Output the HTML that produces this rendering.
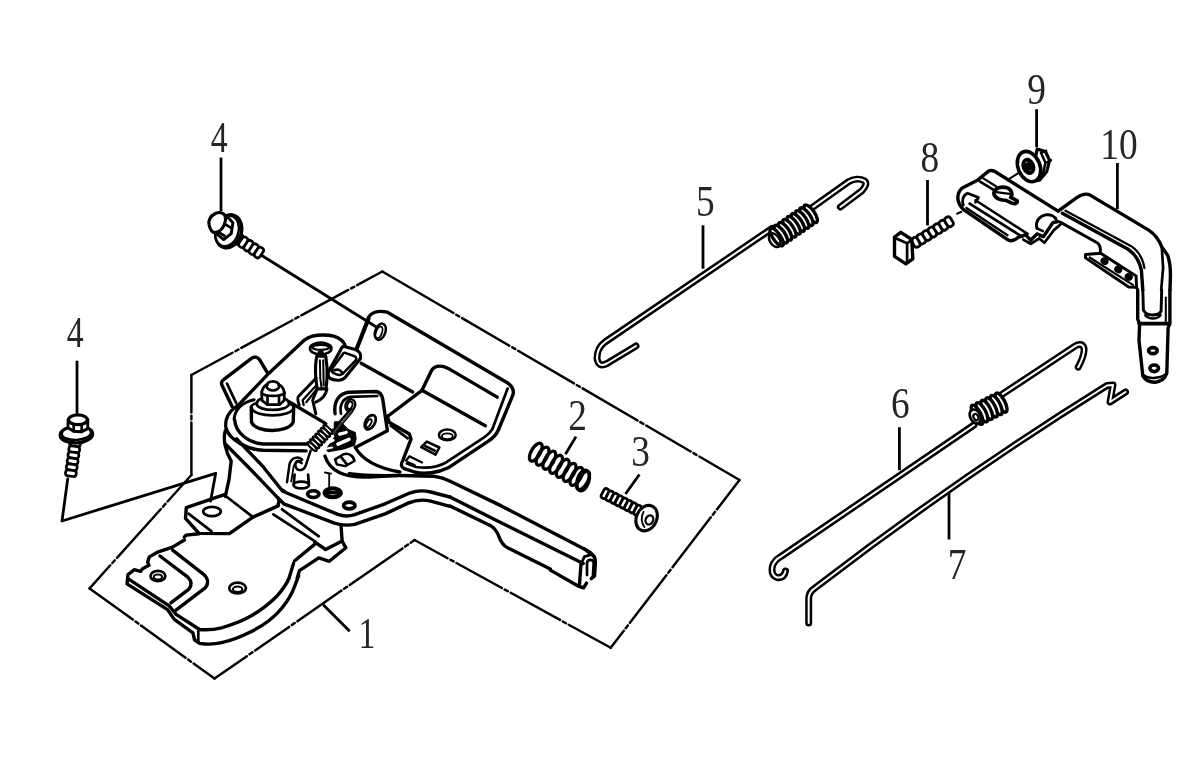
<!DOCTYPE html>
<html lang="en"><head><meta charset="utf-8"><title>Parts diagram</title>
<style>
html,body{margin:0;padding:0;background:#fff;}
body{width:1188px;height:764px;overflow:hidden;}
svg{display:block;filter:blur(0.6px);}
.lb{font-family:"Liberation Serif","DejaVu Serif",serif;font-size:44.5px;fill:#262626;text-anchor:middle;}
</style></head><body>
<svg role="img" aria-label="Exploded parts diagram" width="1188" height="764" viewBox="0 0 1188 764">
<rect width="1188" height="764" fill="#fff"/>
<text class="lb" x="219.1" y="151.7" transform="translate(219.1 0) scale(0.76 1) translate(-219.1 0)">4</text>
<text class="lb" x="75.2" y="346.8" transform="translate(75.2 0) scale(0.76 1) translate(-75.2 0)">4</text>
<text class="lb" x="577.5" y="429.9" transform="translate(577.5 0) scale(0.84 1) translate(-577.5 0)">2</text>
<text class="lb" x="640.5" y="466.1" transform="translate(640.5 0) scale(0.84 1) translate(-640.5 0)">3</text>
<text class="lb" x="366.9" y="648.4" transform="translate(366.9 0) scale(0.76 1) translate(-366.9 0)">1</text>
<text class="lb" x="705.3" y="215.9" transform="translate(705.3 0) scale(0.84 1) translate(-705.3 0)">5</text>
<text class="lb" x="929.9" y="171.8" transform="translate(929.9 0) scale(0.84 1) translate(-929.9 0)">8</text>
<text class="lb" x="1036.6" y="104.1" transform="translate(1036.6 0) scale(0.84 1) translate(-1036.6 0)">9</text>
<text class="lb" x="1118.9" y="158.9" transform="translate(1118.9 0) scale(0.84 1) translate(-1118.9 0)">10</text>
<text class="lb" x="900.4" y="418.3" transform="translate(900.4 0) scale(0.84 1) translate(-900.4 0)">6</text>
<text class="lb" x="957.2" y="578.6" transform="translate(957.2 0) scale(0.84 1) translate(-957.2 0)">7</text>
<line x1="221" y1="157.6" x2="221" y2="211" stroke="#000" stroke-width="2.8" />
<line x1="77" y1="360.7" x2="77" y2="413.7" stroke="#000" stroke-width="2.8" />
<line x1="576" y1="436.6" x2="565.4" y2="454.3" stroke="#000" stroke-width="2.8" />
<line x1="639.4" y1="474.5" x2="625.5" y2="494" stroke="#000" stroke-width="2.8" />
<line x1="323.2" y1="604.8" x2="349.7" y2="631.3" stroke="#000" stroke-width="2.8" />
<line x1="703" y1="225.3" x2="703" y2="268.7" stroke="#000" stroke-width="2.8" />
<line x1="927.5" y1="180" x2="927.5" y2="225.4" stroke="#000" stroke-width="2.8" />
<line x1="1036.6" y1="109.2" x2="1036.6" y2="147" stroke="#000" stroke-width="2.8" />
<line x1="1117.4" y1="163" x2="1117.4" y2="209" stroke="#000" stroke-width="2.8" />
<line x1="899.4" y1="427.2" x2="899.4" y2="470.2" stroke="#000" stroke-width="2.8" />
<line x1="949" y1="492.8" x2="949" y2="539.5" stroke="#000" stroke-width="2.8" />
<line x1="261" y1="255" x2="378" y2="328" stroke="#000" stroke-width="2.8" />
<path d="M67.7 479 L62 521 L215.7 473.3 L210.6 501" fill="none" stroke="#000" stroke-width="2.8" stroke-linejoin="round" stroke-linecap="round" />
<path d="M191.4 475.0 L191.4 422.5 M191.4 419.3 L191.4 415.7 M191.4 412.5 L191.4 375.0" fill="none" stroke="#000" stroke-width="2.43" stroke-linejoin="round" stroke-linecap="round" stroke-linecap="butt"/>
<path d="M191.4 375.0 L232.5 352.7 M235.4 351.2 L238.5 349.5 M241.3 347.9 L292.5 320.2 M295.3 318.6 L298.5 316.9 M301.3 315.4 L348.3 289.9 M351.2 288.4 L354.3 286.7 M357.1 285.1 L382.3 271.5" fill="none" stroke="#000" stroke-width="2.43" stroke-linejoin="round" stroke-linecap="round" stroke-linecap="butt"/>
<path d="M382.3 271.5 L453.5 313.0 M456.2 314.7 L459.3 316.5 M462.1 318.1 L509.4 345.7 M512.2 347.3 L515.3 349.1 M518.1 350.8 L574.0 383.4 M576.7 385.0 L579.8 386.8 M582.6 388.4 L637.6 420.5 M640.3 422.1 L643.4 423.9 M646.2 425.5 L690.7 451.5 M693.4 453.1 L696.5 454.9 M699.3 456.5 L739.5 480.0" fill="none" stroke="#000" stroke-width="2.43" stroke-linejoin="round" stroke-linecap="round" stroke-linecap="butt"/>
<path d="M739.5 480.0 L716.9 509.4 M715.0 511.9 L712.8 514.8 M710.8 517.3 L672.5 567.3 M670.5 569.9 L668.3 572.7 M666.4 575.3 L629.9 622.8 M627.9 625.4 L625.7 628.2 M623.8 630.7 L610.7 647.8" fill="none" stroke="#000" stroke-width="2.43" stroke-linejoin="round" stroke-linecap="round" stroke-linecap="butt"/>
<path d="M610.7 647.8 L568.7 624.7 M565.9 623.2 L562.8 621.5 M560.0 619.9 L510.7 592.8 M507.9 591.3 L504.7 589.6 M501.9 588.0 L456.4 563.0 M453.6 561.4 L450.4 559.7 M447.6 558.2 L414.6 540.0" fill="none" stroke="#000" stroke-width="2.43" stroke-linejoin="round" stroke-linecap="round" stroke-linecap="butt"/>
<path d="M414.6 540.0 L410.7 542.7 M408.1 544.5 L405.1 546.6 M402.5 548.4 L349.7 585.0 M347.1 586.8 L344.1 588.8 M341.5 590.6 L297.4 621.2 M294.7 623.0 L291.8 625.1 M289.1 626.9 L255.1 650.5 M252.5 652.3 L249.5 654.3 M246.9 656.2 L214.5 678.6" fill="none" stroke="#000" stroke-width="2.43" stroke-linejoin="round" stroke-linecap="round" stroke-linecap="butt"/>
<path d="M214.5 678.6 L193.6 663.5 M191.0 661.7 L188.1 659.5 M185.5 657.7 L141.0 625.5 M138.4 623.6 L135.4 621.5 M132.8 619.6 L89.6 588.4" fill="none" stroke="#000" stroke-width="2.43" stroke-linejoin="round" stroke-linecap="round" stroke-linecap="butt"/>
<path d="M89.6 588.4 L110.3 565.3 M112.4 563.0 L114.8 560.3 M117.0 557.9 L160.9 509.0 M163.1 506.6 L165.5 503.9 M167.6 501.5 L191.4 475.0" fill="none" stroke="#000" stroke-width="2.43" stroke-linejoin="round" stroke-linecap="round" stroke-linecap="butt"/>
<path d="M785.5 571 Q784 578.5 777 577.5 Q770.5 575 772.5 566 Q774.5 560 781 556.5 L974 425" fill="none" stroke="#000" stroke-width="7.0" stroke-linejoin="round" stroke-linecap="round"/>
<path d="M785.5 571 Q784 578.5 777 577.5 Q770.5 575 772.5 566 Q774.5 560 781 556.5 L974 425" fill="none" stroke="#fff" stroke-width="2.0" stroke-linejoin="round" stroke-linecap="round"/>
<path d="M808.7 623 L808.7 598 Q809 592 815 588 Q956 479.5 1107 385.5 L1113 385 L1110 402 L1125.5 392" fill="none" stroke="#000" stroke-width="7.0" stroke-linejoin="round" stroke-linecap="round"/>
<path d="M808.7 623 L808.7 598 Q809 592 815 588 Q956 479.5 1107 385.5 L1113 385 L1110 402 L1125.5 392" fill="none" stroke="#fff" stroke-width="2.0" stroke-linejoin="round" stroke-linecap="round"/>
<path d="M 356.2 349.0 L 368.0 318.6 C 370.5 312.7 377.3 309.8 387.4 312.2 L 507.3 382.7 C 513.2 387.0 514.4 391.2 512.7 395.4 L 498.8 429.0" fill="none" stroke="#000" stroke-width="3.39" stroke-linejoin="round" stroke-linecap="round" />
<path d="M 507.6 388.6 L 492.4 429.0" fill="none" stroke="#000" stroke-width="2.71" stroke-linejoin="round" stroke-linecap="round" />
<path d="M 361.2 363.3 L 412.7 392.0" fill="none" stroke="#000" stroke-width="3.39" stroke-linejoin="round" stroke-linecap="round" />
<path d="M 387.4 416.5 L 422.0 390.3 L 431.3 370.9 C 434.7 365.0 441.4 365.0 448.2 368.4 L 497.2 397.1" fill="none" stroke="#000" stroke-width="3.39" stroke-linejoin="round" stroke-linecap="round" />
<path d="M 422.0 390.3 L 485.3 425.8" fill="none" stroke="#000" stroke-width="3.39" stroke-linejoin="round" stroke-linecap="round" />
<ellipse cx="380.3" cy="331.7" rx="5.1" ry="8.4" transform="rotate(20 380.3 331.7)" fill="none" stroke="#000" stroke-width="2.49"/>
<ellipse cx="379.0" cy="332.4" rx="3.0" ry="6.1" transform="rotate(20 379.0 332.4)" fill="none" stroke="#000" stroke-width="1.81"/>
<path d="M 498.8 429.0 C 496.3 434.9 492.9 438.3 488.7 440.8 L 448.2 467.8 C 438.1 472.9 424.6 474.6 414.4 472.0 L 404.3 468.6 C 400.9 467.0 400.6 464.4 402.6 461.0 L 411.0 439.1 L 409.4 434.0 L 389.1 422.2 L 387.4 416.3" fill="none" stroke="#000" stroke-width="3.39" stroke-linejoin="round" stroke-linecap="round" />
<path d="M 492.4 429.0 C 490.4 432.3 487.9 434.9 484.5 437.1 L 446.5 462.2 C 438.1 467.0 426.2 468.6 416.1 467.0 L 406.8 463.6" fill="none" stroke="#000" stroke-width="2.71" stroke-linejoin="round" stroke-linecap="round" />
<path d="M 390.8 425.6 L 407.7 438.3" fill="none" stroke="#000" stroke-width="2.71" stroke-linejoin="round" stroke-linecap="round" />
<ellipse cx="447.3" cy="434.9" rx="8.4" ry="5.4" transform="rotate(0 447.3 434.9)" fill="none" stroke="#000" stroke-width="2.49"/>
<ellipse cx="447.3" cy="436.2" rx="5.4" ry="2.9" transform="rotate(0 447.3 436.2)" fill="none" stroke="#000" stroke-width="1.81"/>
<path d="M 421.2 447.2 L 426.8 441.6 L 439.4 447.5 L 435.5 454.6 Z" fill="none" stroke="#000" stroke-width="2.49" stroke-linejoin="round" stroke-linecap="round" />
<path d="M 425.4 446.2 L 434.7 450.6" fill="none" stroke="#000" stroke-width="2.71" stroke-linejoin="round" stroke-linecap="round" />
<path d="M 406.0 460.7 L 409.4 456.3 L 422.0 462.4" fill="none" stroke="#000" stroke-width="2.26" stroke-linejoin="round" stroke-linecap="round" />
<path d="M 408.0 462.4 L 414.4 465.3" fill="none" stroke="#000" stroke-width="2.71" stroke-linejoin="round" stroke-linecap="round" />
<path d="M 235.5 408.1 L 269.2 372.9 L 304.7 339.8 C 313.1 333.4 333.4 333.4 341.0 339.8 C 343.9 342.2 345.2 344.7 345.5 347.8" fill="none" stroke="#000" stroke-width="3.39" stroke-linejoin="round" stroke-linecap="round" />
<path d="M 232.1 406.4 L 222.0 385.3 C 220.9 382.7 221.6 381.0 223.6 379.7 L 251.5 358.3 C 254.4 356.4 257.7 357.1 259.4 359.4 L 267.5 372.9" fill="none" stroke="#000" stroke-width="3.39" stroke-linejoin="round" stroke-linecap="round" />
<path d="M 236.3 403.3 L 227.0 383.6" fill="none" stroke="#000" stroke-width="2.71" stroke-linejoin="round" stroke-linecap="round" />
<path d="M 357.0 349.0 L 368.8 318.9" fill="none" stroke="#000" stroke-width="3.39" stroke-linejoin="round" stroke-linecap="round" />
<ellipse cx="272.9" cy="385.9" rx="6.4" ry="4.6" transform="rotate(0 272.9 385.9)" fill="none" stroke="#000" stroke-width="2.71"/>
<path d="M 261.8 391.8 C 262.5 386.8 266.7 384.2 267.5 385.1" fill="none" stroke="#000" stroke-width="2.71" stroke-linejoin="round" stroke-linecap="round" />
<path d="M 284.1 391.8 C 283.6 386.8 279.4 384.2 278.5 385.1" fill="none" stroke="#000" stroke-width="2.71" stroke-linejoin="round" stroke-linecap="round" />
<path d="M 261.6 392.2 L 262.1 400.6 L 267.5 404.7 L 279.4 404.7 L 284.1 400.6 L 284.4 392.2" fill="none" stroke="#000" stroke-width="2.71" stroke-linejoin="round" stroke-linecap="round" />
<path d="M 267.5 396.9 L 267.5 404.7 M 279.0 396.9 L 279.0 404.7" fill="none" stroke="#000" stroke-width="2.71" stroke-linejoin="round" stroke-linecap="round" />
<path d="M 261.8 393.2 C 265.0 396.9 281.0 396.9 284.3 393.2" fill="none" stroke="#000" stroke-width="2.71" stroke-linejoin="round" stroke-linecap="round" />
<path d="M 256.6 403.6 C 257.4 412.1 287.8 412.1 289.2 403.6" fill="none" stroke="#000" stroke-width="2.71" stroke-linejoin="round" stroke-linecap="round" />
<path d="M 256.6 403.6 C 257.4 400.3 259.9 398.9 261.8 398.6 M 289.2 403.6 C 288.1 400.3 286.1 398.9 284.4 398.6" fill="none" stroke="#000" stroke-width="2.71" stroke-linejoin="round" stroke-linecap="round" />
<path d="M 251.5 407.9 C 254.0 418.0 291.2 418.0 293.7 407.9" fill="none" stroke="#000" stroke-width="2.71" stroke-linejoin="round" stroke-linecap="round" />
<path d="M 251.2 407.0 L 251.5 422.2 C 255.7 433.2 288.6 433.2 293.2 422.2 L 293.7 407.0" fill="none" stroke="#000" stroke-width="3.39" stroke-linejoin="round" stroke-linecap="round" />
<path d="M 251.2 407.0 C 251.5 405.3 254.0 403.6 256.7 403.3 M 293.7 407.0 C 293.2 405.3 291.2 404.0 289.2 403.6" fill="none" stroke="#000" stroke-width="2.71" stroke-linejoin="round" stroke-linecap="round" />
<path d="M 235.5 407.0 C 228.7 412.1 225.3 418.8 225.7 425.6" fill="none" stroke="#000" stroke-width="3.39" stroke-linejoin="round" stroke-linecap="round" />
<path d="M 289.5 402.0 L 325.8 423.6" fill="none" stroke="#000" stroke-width="3.39" stroke-linejoin="round" stroke-linecap="round" />
<path d="M 225.3 430.7 C 222.8 439.1 225.3 450.9 231.2 461.0 L 229.0 479.6 L 225.3 496.5" fill="none" stroke="#000" stroke-width="3.39" stroke-linejoin="round" stroke-linecap="round" />
<path d="M 333.4 429.0 L 351.1 408.7" fill="none" stroke="#000" stroke-width="2.49" stroke-linejoin="round" stroke-linecap="round" />
<path d="M 336.8 430.7 L 352.8 411.2" fill="none" stroke="#000" stroke-width="1.58" stroke-linejoin="round" stroke-linecap="round" />
<ellipse cx="350.3" cy="405.3" rx="4.7" ry="6.1" transform="rotate(20 350.3 405.3)" fill="none" stroke="#000" stroke-width="2.49"/>
<ellipse cx="349.9" cy="405.3" rx="2.4" ry="3.7" transform="rotate(20 349.9 405.3)" fill="none" stroke="#000" stroke-width="1.81"/>
<path d="M 310.6 450.9 L 305.5 466.1 C 303.0 472.0 295.4 471.2 295.4 464.4 C 295.4 460.7 300.0 459.4 301.6 463.1" fill="none" stroke="#000" stroke-width="2.49" stroke-linejoin="round" stroke-linecap="round" />
<path d="M 287.0 482.2 L 289.5 464.4 C 291.2 457.3 298.8 455.6 302.2 459.7" fill="none" stroke="#000" stroke-width="2.49" stroke-linejoin="round" stroke-linecap="round" />
<path d="M 291.2 481.3 L 293.7 466.1 C 294.6 462.7 297.9 461.0 300.5 462.7" fill="none" stroke="#000" stroke-width="1.81" stroke-linejoin="round" stroke-linecap="round" />
<ellipse cx="301.3" cy="485.0" rx="7.8" ry="3.4" transform="rotate(0 301.3 485.0)" fill="none" stroke="#000" stroke-width="2.71"/>
<path d="M 293.7 483.8 L 294.6 474.6 M 308.9 483.8 L 308.1 474.6" fill="none" stroke="#000" stroke-width="2.71" stroke-linejoin="round" stroke-linecap="round" />
<path d="M 329.2 473.7 L 329.2 489.8 M 324.9 472.5 L 330.9 473.7" fill="none" stroke="#000" stroke-width="1.81" stroke-linejoin="round" stroke-linecap="round" />
<path d="M 335.1 413.8 C 333.4 402.0 338.5 393.5 348.6 392.2 L 376.4 391.5 C 379.8 392.2 382.0 395.2 382.7 398.9 L 387.4 430.7 L 355.3 447.5" fill="none" stroke="#000" stroke-width="3.39" stroke-linejoin="round" stroke-linecap="round" />
<path d="M 341.0 413.8 C 339.3 405.3 342.7 398.2 350.3 396.9 L 377.3 396.0" fill="none" stroke="#000" stroke-width="2.71" stroke-linejoin="round" stroke-linecap="round" />
<ellipse cx="370.2" cy="422.2" rx="4.7" ry="7.8" transform="rotate(30 370.2 422.2)" fill="none" stroke="#000" stroke-width="2.71"/>
<ellipse cx="368.8" cy="423.2" rx="2.0" ry="4.4" transform="rotate(30 368.8 423.2)" fill="none" stroke="#000" stroke-width="1.81"/>
<path d="M 355.3 447.5 C 362.1 459.4 375.6 467.8 399.9 472.0" fill="none" stroke="#000" stroke-width="3.39" stroke-linejoin="round" stroke-linecap="round" />
<path d="M 324.9 456.0 C 330.0 471.2 343.5 477.9 368.8 477.1 L 399.9 475.4" fill="none" stroke="#000" stroke-width="3.39" stroke-linejoin="round" stroke-linecap="round" />
<path d="M 335.1 459.4 L 343.5 454.3 C 348.6 452.6 353.7 456.0 354.5 461.0 L 345.2 466.1 L 336.8 464.4 Z" fill="none" stroke="#000" stroke-width="2.49" stroke-linejoin="round" stroke-linecap="round" />
<path d="M 341.0 456.8 L 346.9 464.4" fill="none" stroke="#000" stroke-width="2.71" stroke-linejoin="round" stroke-linecap="round" />
<path d="M 224.3 494.6 L 186.3 507.6 L 185.5 518.3 L 199.0 533.4 L 229.4 533.6 L 253.0 517.1 L 278.0 505.9" fill="none" stroke="#000" stroke-width="3.39" stroke-linejoin="round" stroke-linecap="round" />
<path d="M 226.0 496.3 L 253.0 517.1" fill="none" stroke="#000" stroke-width="2.71" stroke-linejoin="round" stroke-linecap="round" />
<path d="M 188.5 513.7 L 211.6 531.3" fill="none" stroke="#000" stroke-width="2.71" stroke-linejoin="round" stroke-linecap="round" />
<ellipse cx="212.0" cy="511.5" rx="8.8" ry="4.6" transform="rotate(0 212.0 511.5)" fill="none" stroke="#000" stroke-width="2.71"/>
<path d="M 199.0 533.8 L 186.3 535.1 L 184.3 537.0" fill="none" stroke="#000" stroke-width="3.39" stroke-linejoin="round" stroke-linecap="round" />
<path d="M 279.2 499.2 L 278.0 505.9" fill="none" stroke="#000" stroke-width="3.39" stroke-linejoin="round" stroke-linecap="round" />
<path d="M 273.3 514.4 L 315.1 541.4" fill="none" stroke="#000" stroke-width="2.71" stroke-linejoin="round" stroke-linecap="round" />
<path d="M 282.0 509.3 L 318.8 536.3" fill="none" stroke="#000" stroke-width="2.71" stroke-linejoin="round" stroke-linecap="round" />
<path d="M 314.6 541.9 L 325.6 549.5 L 342.1 541.0 L 341.1 526.7" fill="none" stroke="#000" stroke-width="3.39" stroke-linejoin="round" stroke-linecap="round" />
<path d="M 342.1 541.0 L 345.9 547.8 L 329.3 561.3 L 318.8 557.9 L 299.4 570.6 L 297.2 578.2" fill="none" stroke="#000" stroke-width="3.39" stroke-linejoin="round" stroke-linecap="round" />
<path d="M 314.6 544.4 L 294.4 561.0" fill="none" stroke="#000" stroke-width="3.39" stroke-linejoin="round" stroke-linecap="round" />
<path d="M 225.3 444.0 L 248.0 466.7 L 278.3 498.3" fill="none" stroke="#000" stroke-width="3.39" stroke-linejoin="round" stroke-linecap="round" />
<path d="M 236.6 438.9 L 263.1 466.7 L 282.7 491.3" fill="none" stroke="#000" stroke-width="3.39" stroke-linejoin="round" stroke-linecap="round" />
<path d="M 225.9 427.6 C 229.0 440.2 248.0 449.7 263.1 450.3 L 306.1 450.9" fill="none" stroke="#000" stroke-width="3.39" stroke-linejoin="round" stroke-linecap="round" />
<path d="M 234.7 420.0 C 235.4 433.9 250.5 443.4 263.1 444.0 L 306.7 444.0" fill="none" stroke="#000" stroke-width="3.39" stroke-linejoin="round" stroke-linecap="round" />
<path d="M 184.4 540.0 L 172.6 547.1 L 158.3 551.8 L 149.3 556.9 L 147.6 562.0 L 149.0 565.3 L 142.5 568.7 L 140.5 571.4 L 134.1 569.7 L 128.0 574.6 L 127.0 583.9 L 167.5 609.6 L 174.3 619.4 L 192.9 632.9 L 194.6 640.0 L 199.6 643.3 C 208.1 644.7 214.8 644.3 221.6 642.7 C 235.1 639.6 245.2 634.6 252.0 631.2 C 265.5 624.4 275.6 616.0 282.4 607.5 C 289.1 599.1 292.5 592.3 294.2 587.3 L 298.6 575.8" fill="none" stroke="#000" stroke-width="3.39" stroke-linejoin="round" stroke-linecap="round" />
<path d="M 128.7 579.2 L 169.2 605.9 L 176.0 614.3 L 199.6 629.5 C 208.1 630.3 214.8 629.5 221.6 627.8 C 233.4 624.4 241.8 621.0 248.6 617.3 C 260.4 610.9 270.5 602.5 277.3 595.7 C 284.0 588.1 287.4 582.2 289.1 578.0 L 293.5 563.6" fill="none" stroke="#000" stroke-width="3.39" stroke-linejoin="round" stroke-linecap="round" />
<path d="M 198.3 631.2 L 198.3 641.6" fill="none" stroke="#000" stroke-width="2.71" stroke-linejoin="round" stroke-linecap="round" />
<path d="M 172.6 550.1 L 203.0 573.8 C 208.1 578.0 208.9 583.1 205.5 587.6 L 176.0 610.1" fill="none" stroke="#000" stroke-width="3.39" stroke-linejoin="round" stroke-linecap="round" />
<path d="M 159.9 556.0 L 187.8 577.1 C 192.0 581.4 192.0 585.6 188.6 589.3 L 170.9 602.8" fill="none" stroke="#000" stroke-width="3.39" stroke-linejoin="round" stroke-linecap="round" />
<ellipse cx="157.9" cy="576.0" rx="7.4" ry="5.2" transform="rotate(0 157.9 576.0)" fill="none" stroke="#000" stroke-width="2.71"/>
<ellipse cx="157.9" cy="577.1" rx="4.1" ry="2.5" transform="rotate(0 157.9 577.1)" fill="none" stroke="#000" stroke-width="2.03"/>
<ellipse cx="237.6" cy="588.1" rx="8.4" ry="5.4" transform="rotate(0 237.6 588.1)" fill="none" stroke="#000" stroke-width="2.71"/>
<ellipse cx="237.6" cy="589.3" rx="4.7" ry="2.7" transform="rotate(0 237.6 589.3)" fill="none" stroke="#000" stroke-width="2.03"/>
<path d="M 277.9 497.9 L 283.8 503.8 L 334.4 523.2 C 341.2 525.4 347.9 525.7 354.7 524.4 L 385.1 513.9 L 408.7 502.9 C 415.5 500.1 423.9 499.5 430.7 501.2 L 449.9 506.3" fill="none" stroke="#000" stroke-width="3.39" stroke-linejoin="round" stroke-linecap="round" />
<path d="M 282.9 490.3 L 286.3 492.8 L 337.8 514.4 C 342.9 516.3 349.6 516.3 354.7 514.7 L 385.1 503.8 L 410.4 492.8 C 417.2 490.3 423.9 490.3 430.7 492.0 L 449.9 497.0" fill="none" stroke="#000" stroke-width="3.39" stroke-linejoin="round" stroke-linecap="round" />
<ellipse cx="313.3" cy="494.1" rx="5.7" ry="3.4" transform="rotate(0 313.3 494.1)" fill="none" stroke="#000" stroke-width="3.62"/>
<ellipse cx="332.7" cy="492.8" rx="8.1" ry="4.4" transform="rotate(0 332.7 492.8)" fill="none" stroke="#000" stroke-width="4.07"/>
<path d="M 325.1 492.8 L 340.3 492.8" fill="none" stroke="#000" stroke-width="3.39" stroke-linejoin="round" stroke-linecap="round" />
<ellipse cx="349.3" cy="505.5" rx="5.7" ry="3.4" transform="rotate(0 349.3 505.5)" fill="none" stroke="#000" stroke-width="3.62"/>
<path d="M 349.3 473.8 C 366.2 476.3 383.1 475.8 400.0 475.5 L 433.8 476.3 C 440.5 477.1 445.6 478.8 450.7 481.4 L 501.3 505.9 L 585.7 549.8 L 594.2 556.5" fill="none" stroke="#000" stroke-width="3.39" stroke-linejoin="round" stroke-linecap="round" />
<path d="M 450.0 497.1 L 494.6 519.4 L 583.2 563.6" fill="none" stroke="#000" stroke-width="3.39" stroke-linejoin="round" stroke-linecap="round" />
<path d="M 450.0 505.9 L 491.2 526.1 C 495.4 528.6 497.1 532.0 498.8 536.2 C 500.5 541.3 503.0 545.5 508.1 548.1 L 518.2 553.1 L 550.3 569.0" fill="none" stroke="#000" stroke-width="3.39" stroke-linejoin="round" stroke-linecap="round" />
<path d="M 584.4 549.0 C 591.2 552.3 595.4 555.7 595.4 561.6 L 594.6 576.0 L 591.2 578.7" fill="none" stroke="#000" stroke-width="3.39" stroke-linejoin="round" stroke-linecap="round" />
<path d="M 550.3 570.1 L 577.7 585.8 L 583.6 587.8 L 586.5 583.1" fill="none" stroke="#000" stroke-width="3.39" stroke-linejoin="round" stroke-linecap="round" />
<path d="M 581.0 564.2 L 584.4 556.6 L 592.0 554.4" fill="none" stroke="#000" stroke-width="2.71" stroke-linejoin="round" stroke-linecap="round" />
<path d="M 581.0 564.2 L 579.4 585.3" fill="none" stroke="#000" stroke-width="3.39" stroke-linejoin="round" stroke-linecap="round" />
<path d="M 587.0 575.1 L 587.0 562.8 C 587.8 559.1 592.9 558.8 593.7 562.8 L 592.9 576.3" fill="none" stroke="#000" stroke-width="2.71" stroke-linejoin="round" stroke-linecap="round" />
<path d="M 240.9 234.0 L 241.4 234.3 Q 243.7 235.9 242.2 238.2 L 239.2 242.8 Q 237.6 245.1 235.3 243.6 L 234.7 243.2 Q 232.4 241.7 233.9 239.3 L 237.0 234.7 Q 238.5 232.4 240.9 234.0 Z" fill="#fff" stroke="#000" stroke-width="2.71" stroke-linejoin="round" stroke-linecap="round" />
<path d="M 246.1 237.4 L 246.6 237.8 Q 249.0 239.3 247.4 241.6 L 244.4 246.2 Q 242.8 248.6 240.5 247.0 L 240.0 246.7 Q 237.6 245.1 239.2 242.8 L 242.2 238.2 Q 243.7 235.9 246.1 237.4 Z" fill="#fff" stroke="#000" stroke-width="2.71" stroke-linejoin="round" stroke-linecap="round" />
<path d="M 251.3 240.9 L 251.8 241.2 Q 254.2 242.8 252.6 245.1 L 249.6 249.7 Q 248.0 252.0 245.7 250.5 L 245.2 250.1 Q 242.8 248.6 244.4 246.2 L 247.4 241.6 Q 249.0 239.3 251.3 240.9 Z" fill="#fff" stroke="#000" stroke-width="2.71" stroke-linejoin="round" stroke-linecap="round" />
<path d="M 256.5 244.3 L 257.0 244.7 Q 259.4 246.2 257.8 248.6 L 254.8 253.1 Q 253.3 255.5 250.9 253.9 L 250.4 253.6 Q 248.0 252.0 249.6 249.7 L 252.6 245.1 Q 254.2 242.8 256.5 244.3 Z" fill="#fff" stroke="#000" stroke-width="2.71" stroke-linejoin="round" stroke-linecap="round" />
<path d="M 261.7 247.8 L 262.3 248.1 Q 264.6 249.7 263.1 252.0 L 260.0 256.6 Q 258.5 258.9 256.1 257.4 L 255.6 257.0 Q 253.3 255.5 254.8 253.1 L 257.8 248.6 Q 259.4 246.2 261.7 247.8 Z" fill="#fff" stroke="#000" stroke-width="2.71" stroke-linejoin="round" stroke-linecap="round" />
<ellipse cx="228.7" cy="231.3" rx="12.6" ry="16.8" transform="rotate(18 228.7 231.3)" fill="#fff" stroke="#000" stroke-width="3.39"/>
<ellipse cx="227.0" cy="231.0" rx="11.4" ry="15.6" transform="rotate(18 227.0 231.0)" fill="#fff" stroke="#000" stroke-width="2.49"/>
<path d="M 215.3 213.5 L 226.2 215.6 L 232.9 222.7 L 231.2 233.7 L 223.7 239.6 L 215.3 232.8 Z" fill="#fff" stroke="#000" stroke-width="2.94" stroke-linejoin="round" stroke-linecap="round" />
<path d="M 224.5 224.0 L 231.7 228.2 M 217.8 232.0 L 224.5 235.8" fill="none" stroke="#000" stroke-width="2.71" stroke-linejoin="round" stroke-linecap="round" />
<path d="M 209.2 225.3 C 207.8 221.0 210.2 216.0 215.3 213.5 C 219.5 211.8 223.7 212.6 225.2 216.0 C 225.8 218.5 225.4 221.9 224.5 224.0 C 223.2 228.2 219.5 232.0 215.3 232.6 C 212.1 232.7 210.2 229.5 209.2 225.3 Z" fill="#fff" stroke="#000" stroke-width="3.16" stroke-linejoin="round" stroke-linecap="round" />
<path d="M 80.5 443.8 L 80.4 444.4 Q 80.0 447.1 77.3 446.7 L 72.0 446.0 Q 69.3 445.6 69.7 442.9 L 69.8 442.3 Q 70.2 439.7 72.9 440.0 L 78.2 440.8 Q 80.9 441.2 80.5 443.8 Z" fill="#fff" stroke="#000" stroke-width="2.71" stroke-linejoin="round" stroke-linecap="round" />
<path d="M 79.6 449.8 L 79.6 450.4 Q 79.2 453.1 76.5 452.7 L 71.2 452.0 Q 68.5 451.6 68.9 448.9 L 69.0 448.3 Q 69.3 445.6 72.0 446.0 L 77.3 446.7 Q 80.0 447.1 79.6 449.8 Z" fill="#fff" stroke="#000" stroke-width="2.71" stroke-linejoin="round" stroke-linecap="round" />
<path d="M 78.8 455.8 L 78.7 456.4 Q 78.3 459.0 75.6 458.7 L 70.3 457.9 Q 67.7 457.5 68.0 454.9 L 68.1 454.3 Q 68.5 451.6 71.2 452.0 L 76.5 452.7 Q 79.2 453.1 78.8 455.8 Z" fill="#fff" stroke="#000" stroke-width="2.71" stroke-linejoin="round" stroke-linecap="round" />
<path d="M 78.0 461.7 L 77.9 462.3 Q 77.5 465.0 74.8 464.6 L 69.5 463.9 Q 66.8 463.5 67.2 460.8 L 67.3 460.2 Q 67.7 457.5 70.3 457.9 L 75.6 458.7 Q 78.3 459.0 78.0 461.7 Z" fill="#fff" stroke="#000" stroke-width="2.71" stroke-linejoin="round" stroke-linecap="round" />
<path d="M 77.1 467.7 L 77.0 468.3 Q 76.6 471.0 74.0 470.6 L 68.7 469.8 Q 66.0 469.5 66.4 466.8 L 66.4 466.2 Q 66.8 463.5 69.5 463.9 L 74.8 464.6 Q 77.5 465.0 77.1 467.7 Z" fill="#fff" stroke="#000" stroke-width="2.71" stroke-linejoin="round" stroke-linecap="round" />
<path d="M 76.3 473.7 L 76.2 474.3 Q 75.8 476.9 73.1 476.5 L 67.8 475.8 Q 65.1 475.4 65.5 472.7 L 65.6 472.1 Q 66.0 469.5 68.7 469.8 L 74.0 470.6 Q 76.6 471.0 76.3 473.7 Z" fill="#fff" stroke="#000" stroke-width="2.71" stroke-linejoin="round" stroke-linecap="round" />
<ellipse cx="76.4" cy="434.5" rx="16.2" ry="8.4" transform="rotate(-3 76.4 434.5)" fill="#fff" stroke="#000" stroke-width="3.39"/>
<ellipse cx="76.4" cy="433.2" rx="14.7" ry="6.7" transform="rotate(-3 76.4 433.2)" fill="#fff" stroke="#000" stroke-width="2.49"/>
<path d="M 68.2 419.4 L 67.9 427.8 L 73.7 431.3 L 81.7 431.8 L 87.6 428.6 L 87.8 419.4 Z" fill="#fff" stroke="#000" stroke-width="2.94" stroke-linejoin="round" stroke-linecap="round" />
<path d="M 73.7 424.4 L 73.7 431.3 M 81.7 424.8 L 81.7 431.8" fill="none" stroke="#000" stroke-width="2.71" stroke-linejoin="round" stroke-linecap="round" />
<ellipse cx="77.9" cy="419.8" rx="9.4" ry="4.9" transform="rotate(0 77.9 419.8)" fill="#fff" stroke="#000" stroke-width="3.16"/>
<ellipse cx="535.8" cy="452.1" rx="4.5" ry="10.1" transform="rotate(30 535.8 452.1)" fill="none" stroke="#000" stroke-width="3.28"/>
<ellipse cx="542.5" cy="456.2" rx="4.5" ry="10.1" transform="rotate(30 542.5 456.2)" fill="none" stroke="#000" stroke-width="3.28"/>
<ellipse cx="549.3" cy="460.2" rx="4.5" ry="10.1" transform="rotate(30 549.3 460.2)" fill="none" stroke="#000" stroke-width="3.28"/>
<ellipse cx="556.1" cy="464.3" rx="4.5" ry="10.1" transform="rotate(30 556.1 464.3)" fill="none" stroke="#000" stroke-width="3.28"/>
<ellipse cx="562.8" cy="468.3" rx="4.5" ry="10.1" transform="rotate(30 562.8 468.3)" fill="none" stroke="#000" stroke-width="3.28"/>
<ellipse cx="569.6" cy="472.4" rx="4.5" ry="10.1" transform="rotate(30 569.6 472.4)" fill="none" stroke="#000" stroke-width="3.28"/>
<ellipse cx="576.4" cy="476.4" rx="4.5" ry="10.1" transform="rotate(30 576.4 476.4)" fill="none" stroke="#000" stroke-width="3.28"/>
<ellipse cx="583.1" cy="480.5" rx="4.5" ry="10.1" transform="rotate(30 583.1 480.5)" fill="none" stroke="#000" stroke-width="3.28"/>
<ellipse cx="583.1" cy="480.5" rx="5.8" ry="10.6" transform="rotate(18 583.1 480.5)" fill="none" stroke="#000" stroke-width="3.39"/>
<path d="M 607.2 488.8 L 607.6 489.1 Q 609.7 490.2 608.6 492.2 L 606.1 497.3 Q 605.0 499.4 602.9 498.3 L 602.4 498.1 Q 600.3 497.0 601.4 494.9 L 604.0 489.9 Q 605.1 487.8 607.2 488.8 Z" fill="#fff" stroke="#000" stroke-width="2.82" stroke-linejoin="round" stroke-linecap="round" />
<path d="M 611.8 491.2 L 612.3 491.5 Q 614.4 492.5 613.3 494.6 L 610.7 499.7 Q 609.7 501.7 607.6 500.7 L 607.1 500.4 Q 605.0 499.4 606.1 497.3 L 608.6 492.2 Q 609.7 490.2 611.8 491.2 Z" fill="#fff" stroke="#000" stroke-width="2.82" stroke-linejoin="round" stroke-linecap="round" />
<path d="M 616.5 493.6 L 616.9 493.8 Q 619.0 494.9 618.0 497.0 L 615.4 502.0 Q 614.3 504.1 612.2 503.1 L 611.8 502.8 Q 609.7 501.7 610.7 499.7 L 613.3 494.6 Q 614.4 492.5 616.5 493.6 Z" fill="#fff" stroke="#000" stroke-width="2.82" stroke-linejoin="round" stroke-linecap="round" />
<path d="M 621.1 496.0 L 621.6 496.2 Q 623.7 497.3 622.6 499.4 L 620.0 504.4 Q 619.0 506.5 616.9 505.4 L 616.4 505.2 Q 614.3 504.1 615.4 502.0 L 618.0 497.0 Q 619.0 494.9 621.1 496.0 Z" fill="#fff" stroke="#000" stroke-width="2.82" stroke-linejoin="round" stroke-linecap="round" />
<path d="M 625.8 498.4 L 626.2 498.6 Q 628.3 499.7 627.3 501.8 L 624.7 506.8 Q 623.6 508.9 621.5 507.8 L 621.1 507.6 Q 619.0 506.5 620.0 504.4 L 622.6 499.4 Q 623.7 497.3 625.8 498.4 Z" fill="#fff" stroke="#000" stroke-width="2.82" stroke-linejoin="round" stroke-linecap="round" />
<path d="M 630.4 500.8 L 630.9 501.0 Q 633.0 502.1 631.9 504.2 L 629.4 509.2 Q 628.3 511.3 626.2 510.2 L 625.7 510.0 Q 623.6 508.9 624.7 506.8 L 627.3 501.8 Q 628.3 499.7 630.4 500.8 Z" fill="#fff" stroke="#000" stroke-width="2.82" stroke-linejoin="round" stroke-linecap="round" />
<path d="M 635.1 503.1 L 635.6 503.4 Q 637.7 504.4 636.6 506.5 L 634.0 511.6 Q 632.9 513.7 630.8 512.6 L 630.4 512.3 Q 628.3 511.3 629.4 509.2 L 631.9 504.2 Q 633.0 502.1 635.1 503.1 Z" fill="#fff" stroke="#000" stroke-width="2.82" stroke-linejoin="round" stroke-linecap="round" />
<path d="M 639.7 505.5 L 640.2 505.8 Q 642.3 506.8 641.2 508.9 L 638.7 514.0 Q 637.6 516.0 635.5 515.0 L 635.0 514.7 Q 632.9 513.7 634.0 511.6 L 636.6 506.5 Q 637.7 504.4 639.7 505.5 Z" fill="#fff" stroke="#000" stroke-width="2.82" stroke-linejoin="round" stroke-linecap="round" />
<ellipse cx="646.6" cy="518.1" rx="10.1" ry="13.2" transform="rotate(25 646.6 518.1)" fill="#fff" stroke="#000" stroke-width="3.16"/>
<ellipse cx="649.4" cy="519.9" rx="3.7" ry="4.7" transform="rotate(25 649.4 519.9)" fill="none" stroke="#000" stroke-width="2.26"/>
<path d="M 643.5 511.8 C 641.0 516.9 641.5 522.8 644.4 527.0" fill="none" stroke="#000" stroke-width="1.81" stroke-linejoin="round" stroke-linecap="round" />
<path d="M636 346 L607 363.5 Q598 368 597 358 Q597 348 605 342 L772 228.5" fill="none" stroke="#000" stroke-width="7.0" stroke-linejoin="round" stroke-linecap="round"/>
<path d="M636 346 L607 363.5 Q598 368 597 358 Q597 348 605 342 L772 228.5" fill="none" stroke="#fff" stroke-width="2.0" stroke-linejoin="round" stroke-linecap="round"/>
<path d="M 810.7 208.6 L 848.6 181.7 C 853.6 178.7 859.9 178.3 864.4 180.8 C 866.9 182.7 866.3 185.9 861.8 190.9 L 840.4 207.0" fill="none" stroke="#000" stroke-width="7.0" stroke-linejoin="round" stroke-linecap="round"/>
<path d="M 810.7 208.6 L 848.6 181.7 C 853.6 178.7 859.9 178.3 864.4 180.8 C 866.9 182.7 866.3 185.9 861.8 190.9 L 840.4 207.0" fill="none" stroke="#fff" stroke-width="2.0" stroke-linejoin="round" stroke-linecap="round"/>
<ellipse cx="810.7" cy="213.7" rx="3.8" ry="10.4" transform="rotate(-34.41836447905621 810.7 213.7)" fill="#fff" stroke="#000" stroke-width="3.39"/>
<ellipse cx="806.4" cy="216.6" rx="3.8" ry="10.4" transform="rotate(-34.41836447905621 806.4 216.6)" fill="#fff" stroke="#000" stroke-width="3.39"/>
<ellipse cx="802.2" cy="219.5" rx="3.8" ry="10.4" transform="rotate(-34.41836447905621 802.2 219.5)" fill="#fff" stroke="#000" stroke-width="3.39"/>
<ellipse cx="797.9" cy="222.4" rx="3.8" ry="10.4" transform="rotate(-34.41836447905621 797.9 222.4)" fill="#fff" stroke="#000" stroke-width="3.39"/>
<ellipse cx="793.7" cy="225.3" rx="3.8" ry="10.4" transform="rotate(-34.41836447905621 793.7 225.3)" fill="#fff" stroke="#000" stroke-width="3.39"/>
<ellipse cx="789.4" cy="228.3" rx="3.8" ry="10.4" transform="rotate(-34.41836447905621 789.4 228.3)" fill="#fff" stroke="#000" stroke-width="3.39"/>
<ellipse cx="785.1" cy="231.2" rx="3.8" ry="10.4" transform="rotate(-34.41836447905621 785.1 231.2)" fill="#fff" stroke="#000" stroke-width="3.39"/>
<ellipse cx="780.9" cy="234.1" rx="3.8" ry="10.4" transform="rotate(-34.41836447905621 780.9 234.1)" fill="#fff" stroke="#000" stroke-width="3.39"/>
<ellipse cx="776.6" cy="237.0" rx="3.8" ry="10.4" transform="rotate(-34.41836447905621 776.6 237.0)" fill="#fff" stroke="#000" stroke-width="3.39"/>
<ellipse cx="774.7" cy="240.2" rx="4.8" ry="7.6" transform="rotate(-34 774.7 240.2)" fill="none" stroke="#000" stroke-width="2.49"/>
<path d="M 1000.5 395.4 L 1075.0 346.1 C 1078.8 343.6 1082.6 343.8 1083.8 347.6 C 1084.8 351.4 1083.8 356.5 1078.2 367.2" fill="none" stroke="#000" stroke-width="7.0" stroke-linejoin="round" stroke-linecap="round"/>
<path d="M 1000.5 395.4 L 1075.0 346.1 C 1078.8 343.6 1082.6 343.8 1083.8 347.6 C 1084.8 351.4 1083.8 356.5 1078.2 367.2" fill="none" stroke="#fff" stroke-width="2.0" stroke-linejoin="round" stroke-linecap="round"/>
<ellipse cx="1001.1" cy="402.6" rx="3.8" ry="10.6" transform="rotate(-27.045507668006145 1001.1 402.6)" fill="#fff" stroke="#000" stroke-width="3.39"/>
<ellipse cx="996.3" cy="405.0" rx="3.8" ry="10.6" transform="rotate(-27.045507668006145 996.3 405.0)" fill="#fff" stroke="#000" stroke-width="3.39"/>
<ellipse cx="991.5" cy="407.4" rx="3.8" ry="10.6" transform="rotate(-27.045507668006145 991.5 407.4)" fill="#fff" stroke="#000" stroke-width="3.39"/>
<ellipse cx="986.7" cy="409.9" rx="3.8" ry="10.6" transform="rotate(-27.045507668006145 986.7 409.9)" fill="#fff" stroke="#000" stroke-width="3.39"/>
<ellipse cx="981.9" cy="412.3" rx="3.8" ry="10.6" transform="rotate(-27.045507668006145 981.9 412.3)" fill="#fff" stroke="#000" stroke-width="3.39"/>
<ellipse cx="977.1" cy="414.8" rx="3.8" ry="10.6" transform="rotate(-27.045507668006145 977.1 414.8)" fill="#fff" stroke="#000" stroke-width="3.39"/>
<ellipse cx="975.3" cy="416.4" rx="5.1" ry="7.3" transform="rotate(-28 975.3 416.4)" fill="#fff" stroke="#000" stroke-width="2.71"/>
<ellipse cx="975.9" cy="417.1" rx="2.3" ry="3.3" transform="rotate(-28 975.9 417.1)" fill="none" stroke="#000" stroke-width="2.26"/>
<path d="M 912.9 238.2 L 913.4 237.9 Q 915.9 236.3 917.5 238.8 L 919.7 242.4 Q 921.3 244.9 918.8 246.5 L 918.2 246.8 Q 915.7 248.3 914.2 245.8 L 912.0 242.2 Q 910.4 239.7 912.9 238.2 Z" fill="#fff" stroke="#000" stroke-width="2.82" stroke-linejoin="round" stroke-linecap="round" />
<path d="M 918.4 234.8 L 919.0 234.4 Q 921.5 232.9 923.0 235.4 L 925.2 239.0 Q 926.8 241.5 924.3 243.0 L 923.8 243.4 Q 921.3 244.9 919.7 242.4 L 917.5 238.8 Q 915.9 236.3 918.4 234.8 Z" fill="#fff" stroke="#000" stroke-width="2.82" stroke-linejoin="round" stroke-linecap="round" />
<path d="M 923.9 231.4 L 924.5 231.0 Q 927.0 229.5 928.5 232.0 L 930.8 235.6 Q 932.3 238.1 929.8 239.6 L 929.3 239.9 Q 926.8 241.5 925.2 239.0 L 923.0 235.4 Q 921.5 232.9 923.9 231.4 Z" fill="#fff" stroke="#000" stroke-width="2.82" stroke-linejoin="round" stroke-linecap="round" />
<path d="M 929.5 227.9 L 930.0 227.6 Q 932.5 226.0 934.0 228.5 L 936.3 232.1 Q 937.8 234.6 935.3 236.2 L 934.8 236.5 Q 932.3 238.1 930.8 235.6 L 928.5 232.0 Q 927.0 229.5 929.5 227.9 Z" fill="#fff" stroke="#000" stroke-width="2.82" stroke-linejoin="round" stroke-linecap="round" />
<path d="M 935.0 224.5 L 935.5 224.2 Q 938.0 222.6 939.6 225.1 L 941.8 228.7 Q 943.3 231.2 940.9 232.7 L 940.3 233.1 Q 937.8 234.6 936.3 232.1 L 934.0 228.5 Q 932.5 226.0 935.0 224.5 Z" fill="#fff" stroke="#000" stroke-width="2.82" stroke-linejoin="round" stroke-linecap="round" />
<path d="M 940.5 221.1 L 941.0 220.7 Q 943.5 219.2 945.1 221.7 L 947.3 225.3 Q 948.9 227.8 946.4 229.3 L 945.8 229.7 Q 943.3 231.2 941.8 228.7 L 939.6 225.1 Q 938.0 222.6 940.5 221.1 Z" fill="#fff" stroke="#000" stroke-width="2.82" stroke-linejoin="round" stroke-linecap="round" />
<path d="M 946.0 217.6 L 946.6 217.3 Q 949.1 215.8 950.6 218.2 L 952.8 221.9 Q 954.4 224.3 951.9 225.9 L 951.4 226.2 Q 948.9 227.8 947.3 225.3 L 945.1 221.7 Q 943.5 219.2 946.0 217.6 Z" fill="#fff" stroke="#000" stroke-width="2.82" stroke-linejoin="round" stroke-linecap="round" />
<path d="M 894.5 237.0 L 900.8 232.3 L 911.8 239.5 L 912.8 258.8 L 905.9 263.9 L 894.5 256.3 Z" fill="#fff" stroke="#000" stroke-width="3.39" stroke-linejoin="round" stroke-linecap="round" />
<path d="M 896.2 238.6 L 907.1 243.3 L 907.1 262.2 M 907.1 243.3 L 911.8 239.9" fill="none" stroke="#000" stroke-width="2.71" stroke-linejoin="round" stroke-linecap="round" />
<line x1="956.4" y1="214.0" x2="962.1" y2="211.5" stroke="#000" stroke-width="2.0" />
<path d="M 1037.2 148.9 L 1045.4 151.5 L 1049.6 160.3 L 1046.7 171.7 L 1039.5 180.3 L 1030.9 181.1 Z" fill="#fff" stroke="#000" stroke-width="3.16" stroke-linejoin="round" stroke-linecap="round" />
<path d="M 1041.0 152.7 L 1045.4 162.8 L 1042.9 174.2 M 1046.1 150.8 L 1041.0 152.7 M 1050.9 160.3 L 1045.4 162.8" fill="none" stroke="#000" stroke-width="2.49" stroke-linejoin="round" stroke-linecap="round" />
<ellipse cx="1029.0" cy="166.6" rx="10.9" ry="15.7" transform="rotate(-22 1029.0 166.6)" fill="#fff" stroke="#000" stroke-width="3.62"/>
<ellipse cx="1028.4" cy="166.4" rx="4.8" ry="6.9" transform="rotate(-22 1028.4 166.4)" fill="#fff" stroke="#000" stroke-width="3.84"/>
<ellipse cx="1028.4" cy="166.6" rx="1.8" ry="2.8" transform="rotate(-22 1028.4 166.6)" fill="#000" stroke="#000" stroke-width="3.39"/>
<line x1="1019.5" y1="172.3" x2="1008.8" y2="179.2" stroke="#000" stroke-width="2.0" />
<path d="M 1058.1 211.1 L 994.9 171.5 C 992.4 170.2 990.3 170.2 988.6 171.1 L 977.0 180.6 L 962.2 187.9 C 958.7 191.1 957.4 195.3 958.0 199.5 C 958.7 204.4 960.8 207.3 964.3 210.1 L 1007.5 239.6 C 1010.7 241.7 1013.9 241.0 1018.1 237.5" fill="none" stroke="#000" stroke-width="3.39" stroke-linejoin="round" stroke-linecap="round" />
<path d="M 969.6 203.7 L 1022.3 236.8" fill="none" stroke="#000" stroke-width="2.71" stroke-linejoin="round" stroke-linecap="round" />
<path d="M 975.5 200.2 L 1027.6 233.9" fill="none" stroke="#000" stroke-width="2.49" stroke-linejoin="round" stroke-linecap="round" />
<path d="M 966.4 208.0 L 1007.5 235.3" fill="none" stroke="#000" stroke-width="2.26" stroke-linejoin="round" stroke-linecap="round" />
<path d="M 963.3 205.2 C 961.6 200.6 962.9 195.3 967.5 193.2 L 978.5 197.6 L 975.5 202.3" fill="none" stroke="#000" stroke-width="2.71" stroke-linejoin="round" stroke-linecap="round" />
<path d="M 980.1 181.6 L 993.2 189.6" fill="none" stroke="#000" stroke-width="2.71" stroke-linejoin="round" stroke-linecap="round" />
<path d="M 983.3 178.4 L 996.0 186.2" fill="none" stroke="#000" stroke-width="2.26" stroke-linejoin="round" stroke-linecap="round" />
<path d="M 993.8 193.2 C 994.9 187.9 1001.2 185.8 1007.5 187.9 C 1012.2 190.0 1012.8 195.3 1010.7 197.4 L 1017.0 200.6 C 1018.1 203.1 1014.9 204.4 1011.8 203.1 L 1005.4 200.2 C 1000.2 200.6 994.5 198.0 993.8 193.2 Z" fill="none" stroke="#000" stroke-width="3.62" stroke-linejoin="round" stroke-linecap="round" />
<path d="M 996.0 192.1 L 1009.6 193.8" fill="none" stroke="#000" stroke-width="2.26" stroke-linejoin="round" stroke-linecap="round" />
<path d="M 1018.1 237.5 L 1025.5 234.7 L 1030.7 240.2 L 1037.0 233.9 L 1043.4 236.8 L 1052.8 222.7 L 1058.1 221.6" fill="none" stroke="#000" stroke-width="3.39" stroke-linejoin="round" stroke-linecap="round" />
<path d="M 1023.3 239.6 L 1030.7 243.8 L 1039.2 238.5 L 1044.4 242.7 L 1053.9 230.1 L 1061.3 223.8" fill="none" stroke="#000" stroke-width="2.71" stroke-linejoin="round" stroke-linecap="round" />
<path d="M 1037.0 228.4 C 1034.9 221.6 1039.2 216.4 1045.5 214.9 C 1050.7 214.3 1055.0 216.4 1056.4 220.0" fill="none" stroke="#000" stroke-width="2.94" stroke-linejoin="round" stroke-linecap="round" />
<path d="M 1037.0 228.4 L 1042.9 231.1" fill="none" stroke="#000" stroke-width="2.49" stroke-linejoin="round" stroke-linecap="round" />
<path d="M 1058.1 211.1 L 1077.1 197.4 C 1082.4 193.8 1086.6 193.4 1090.1 195.1 L 1148.7 230.1 C 1155.1 234.3 1159.3 240.6 1161.8 246.9 L 1167.7 255.4 C 1169.8 261.7 1170.6 268.0 1170.4 276.4 L 1170.0 289.9" fill="none" stroke="#000" stroke-width="3.39" stroke-linejoin="round" stroke-linecap="round" />
<path d="M 1062.3 213.2 L 1127.7 249.0 C 1135.0 253.7 1139.2 260.6 1141.4 270.1 L 1142.8 289.9" fill="none" stroke="#000" stroke-width="3.39" stroke-linejoin="round" stroke-linecap="round" />
<path d="M 1065.5 210.7 L 1130.8 245.9 C 1138.2 250.7 1142.8 258.5 1144.5 268.0" fill="none" stroke="#000" stroke-width="2.26" stroke-linejoin="round" stroke-linecap="round" />
<path d="M 1060.2 222.1 L 1097.1 242.7 C 1099.8 244.8 1100.7 248.0 1100.3 251.6" fill="none" stroke="#000" stroke-width="2.94" stroke-linejoin="round" stroke-linecap="round" />
<path d="M 1161.8 247.4 L 1163.1 268.0 L 1161.2 289.9" fill="none" stroke="#000" stroke-width="2.71" stroke-linejoin="round" stroke-linecap="round" />
<path d="M 1085.5 254.5 L 1100.7 253.3 L 1136.1 276.0 L 1136.5 287.4 L 1128.7 287.0 L 1085.5 257.9 Z" fill="none" stroke="#000" stroke-width="2.94" stroke-linejoin="round" stroke-linecap="round" />
<path d="M 1089.7 257.5 L 1132.9 284.9" fill="none" stroke="#000" stroke-width="2.26" stroke-linejoin="round" stroke-linecap="round" />
<ellipse cx="1104.5" cy="261.1" rx="2.5" ry="1.9" transform="rotate(30 1104.5 261.1)" fill="#000" stroke="#000" stroke-width="3.39"/>
<ellipse cx="1118.2" cy="269.5" rx="2.5" ry="1.9" transform="rotate(30 1118.2 269.5)" fill="#000" stroke="#000" stroke-width="3.39"/>
<ellipse cx="1128.7" cy="276.9" rx="2.5" ry="1.9" transform="rotate(30 1128.7 276.9)" fill="#000" stroke="#000" stroke-width="3.39"/>
<path d="M 1136.5 287.4 L 1137.6 289.9" fill="none" stroke="#000" stroke-width="2.94" stroke-linejoin="round" stroke-linecap="round" />
<path d="M 1137.7 290.0 L 1137.7 319.0 L 1139.6 323.8 L 1139.0 340.5 L 1142.8 375.9 C 1145.3 380.3 1150.4 382.4 1155.4 382.2 C 1160.5 381.5 1164.9 379.0 1166.8 373.3 L 1168.1 327.9 L 1169.9 323.8 L 1169.9 290.0" fill="none" stroke="#000" stroke-width="3.39" stroke-linejoin="round" stroke-linecap="round" />
<path d="M 1142.8 290.0 L 1143.4 310.2 C 1145.3 314.0 1149.1 315.0 1152.3 315.0 C 1156.1 315.0 1159.8 313.7 1161.1 311.2 L 1161.7 290.0" fill="none" stroke="#000" stroke-width="2.94" stroke-linejoin="round" stroke-linecap="round" />
<path d="M 1145.3 315.3 C 1149.1 319.7 1156.7 319.7 1160.5 315.3" fill="none" stroke="#000" stroke-width="2.49" stroke-linejoin="round" stroke-linecap="round" />
<path d="M 1139.0 323.6 L 1168.8 323.6" fill="none" stroke="#000" stroke-width="3.62" stroke-linejoin="round" stroke-linecap="round" />
<path d="M 1165.8 297.6 L 1165.8 321.6" fill="none" stroke="#000" stroke-width="2.03" stroke-linejoin="round" stroke-linecap="round" />
<ellipse cx="1152.9" cy="350.6" rx="4.3" ry="3.0" transform="rotate(0 1152.9 350.6)" fill="none" stroke="#000" stroke-width="3.62"/>
<ellipse cx="1154.2" cy="368.3" rx="4.3" ry="3.3" transform="rotate(0 1154.2 368.3)" fill="none" stroke="#000" stroke-width="3.62"/>
<path d="M 1143.8 375.2 C 1147.8 379.0 1159.2 379.0 1165.8 374.3" fill="none" stroke="#000" stroke-width="2.49" stroke-linejoin="round" stroke-linecap="round" />
<path d="M 254.2 399.7 C 242.8 402.2 235.3 407.9 234.0 419.2" fill="none" stroke="#000" stroke-width="2.94" stroke-linejoin="round" stroke-linecap="round" />
<path d="M 344.3 346.4 L 355.2 349.5 C 359.4 351.0 361.5 354.4 360.5 358.4 L 345.1 377.5 C 342.2 380.9 335.9 380.9 330.8 378.8 C 328.0 377.1 327.5 373.9 328.9 370.8 L 340.3 350.6 C 341.2 348.0 342.6 346.4 344.3 346.4 Z" fill="#fff" stroke="#000" stroke-width="3.16" stroke-linejoin="round" stroke-linecap="round" />
<path d="M 345.1 352.8 L 354.0 356.0 C 356.5 357.1 356.9 358.6 355.7 360.3 L 342.6 373.9 C 340.9 375.4 338.4 375.2 335.9 374.1 L 332.9 372.7 C 331.2 371.6 331.2 369.9 332.5 368.0 L 342.6 354.4 C 343.2 353.1 344.0 352.5 345.1 352.8 Z" fill="none" stroke="#000" stroke-width="2.49" stroke-linejoin="round" stroke-linecap="round" />
<path d="M 333.8 370.4 C 337.1 368.7 340.5 369.5 342.2 372.9" fill="none" stroke="#000" stroke-width="2.71" stroke-linejoin="round" stroke-linecap="round" />
<ellipse cx="320.7" cy="348.5" rx="10.8" ry="5.9" transform="rotate(0 320.7 348.5)" fill="#fff" stroke="#000" stroke-width="2.49"/>
<path d="M 312.1 347.6 C 314.4 343.8 327.0 343.8 329.6 347.6 C 327.0 350.6 314.4 350.6 312.1 347.6 Z" fill="none" stroke="#000" stroke-width="2.26" stroke-linejoin="round" stroke-linecap="round" />
<ellipse cx="320.7" cy="352.5" rx="2.0" ry="0.8" transform="rotate(0 320.7 352.5)" fill="#000" stroke="#000" stroke-width="2.26"/>
<path d="M 316.9 356.0 C 315.7 360.3 315.3 368.7 315.7 377.1 L 317.1 388.9 L 326.0 388.9 L 327.0 378.8 C 327.5 370.4 327.0 363.6 325.8 356.5 Z" fill="#fff" stroke="#000" stroke-width="3.16" stroke-linejoin="round" stroke-linecap="round" />
<path d="M 319.9 360.3 L 320.3 378.8 L 321.6 388.0" fill="none" stroke="#000" stroke-width="2.03" stroke-linejoin="round" stroke-linecap="round" />
<path d="M 323.2 360.3 L 323.7 385.5" fill="none" stroke="#000" stroke-width="2.03" stroke-linejoin="round" stroke-linecap="round" />
<path d="M 334.6 421.9 L 340.5 421.9 L 348.1 429.5 L 355.2 432.5 L 356.1 438.8 L 354.4 445.1 L 343.9 448.9 L 328.3 451.6 L 326.2 449.3 L 335.0 436.7 L 332.9 430.4 Z" fill="#000" stroke="#000" stroke-width="1.13" stroke-linejoin="round" stroke-linecap="round" />
<ellipse cx="328.0" cy="429.5" rx="1.9" ry="6.1" transform="rotate(-46.75340486007154 328.0 429.5)" fill="#fff" stroke="#000" stroke-width="2.15"/>
<ellipse cx="325.4" cy="432.3" rx="1.9" ry="6.1" transform="rotate(-46.75340486007154 325.4 432.3)" fill="#fff" stroke="#000" stroke-width="2.15"/>
<ellipse cx="322.7" cy="435.2" rx="1.9" ry="6.1" transform="rotate(-46.75340486007154 322.7 435.2)" fill="#fff" stroke="#000" stroke-width="2.15"/>
<ellipse cx="320.1" cy="438.0" rx="1.9" ry="6.1" transform="rotate(-46.75340486007154 320.1 438.0)" fill="#fff" stroke="#000" stroke-width="2.15"/>
<ellipse cx="317.4" cy="440.8" rx="1.9" ry="6.1" transform="rotate(-46.75340486007154 317.4 440.8)" fill="#fff" stroke="#000" stroke-width="2.15"/>
<ellipse cx="314.7" cy="443.7" rx="1.9" ry="6.1" transform="rotate(-46.75340486007154 314.7 443.7)" fill="#fff" stroke="#000" stroke-width="2.15"/>
<ellipse cx="312.1" cy="446.5" rx="1.9" ry="6.1" transform="rotate(-46.75340486007154 312.1 446.5)" fill="#fff" stroke="#000" stroke-width="2.15"/>
<path d="M 340.1 435.8 L 346.6 434.1 Q 348.2 433.7 347.8 432.1 Q 347.4 430.5 345.8 430.9 L 339.2 432.6 Q 337.6 433.0 338.1 434.6 Q 338.5 436.2 340.1 435.8 Z" fill="#fff" stroke="none"/>
<path d="M 338.7 445.8 L 349.7 441.0 Q 351.3 440.3 350.5 438.6 Q 349.8 437.0 348.2 437.8 L 337.2 442.6 Q 335.6 443.3 336.4 445.0 Q 337.1 446.6 338.7 445.8 Z" fill="#fff" stroke="none"/>
<path d="M 330.5 443.1 L 334.0 441.5 Q 335.2 441.0 334.6 439.7 Q 334.1 438.5 332.8 439.1 L 329.3 440.8 Q 328.1 441.3 328.7 442.6 Q 329.2 443.7 330.5 443.1 Z" fill="#fff" stroke="none"/>
<path d="M 325.6 450.0 L 332.3 448.6 Q 333.4 448.4 333.2 447.3 Q 332.9 446.3 331.8 446.4 L 325.1 447.8 Q 324.1 448.0 324.3 449.1 Q 324.5 450.1 325.6 450.0 Z" fill="#fff" stroke="none"/>
<path d="M 329.4 427.7 L 333.4 423.5 L 333.9 428.5 Z" fill="#fff"/>
<path d="M 351.9 410.6 L 333.1 433.6" fill="none" stroke="#444" stroke-width="1.6"/>
<path d="M 316.2 378.1 L 298.4 396.6 C 297.3 397.9 297.7 400.8 299.2 405.0" fill="none" stroke="#000" stroke-width="2.94" stroke-linejoin="round" stroke-linecap="round" />
<path d="M 317.0 384.4 L 302.6 400.2 L 303.7 405.0" fill="none" stroke="#000" stroke-width="2.26" stroke-linejoin="round" stroke-linecap="round" />
<path d="M 316.4 389.6 L 306.3 402.1" fill="none" stroke="#000" stroke-width="2.26" stroke-linejoin="round" stroke-linecap="round" />
<path d="M 317.0 388.9 C 315.8 393.7 313.2 397.0 312.7 400.4 L 315.8 413.9" fill="none" stroke="#000" stroke-width="2.94" stroke-linejoin="round" stroke-linecap="round" />
<path d="M 327.0 388.9 C 325.9 395.4 321.2 399.6 315.8 402.1" fill="none" stroke="#000" stroke-width="2.94" stroke-linejoin="round" stroke-linecap="round" />
</svg>
</body></html>
